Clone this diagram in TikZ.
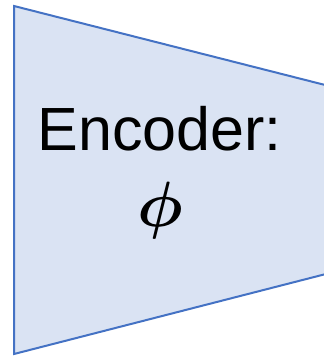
\documentclass[tikz,border=0pt]{standalone}
\usepackage{fontspec}
\setmainfont{Liberation Sans}
\usepackage{unicode-math}
\setmathfont{Latin Modern Math}
\definecolor{encfill}{HTML}{DAE3F3}
\definecolor{encline}{HTML}{4472C4}
\tikzset{encshape/.style={fill=encfill,draw=encline,line width=2pt,line join=miter}}
\begin{document}
\begin{tikzpicture}[x=1pt,y=-1pt]
\useasboundingbox (0,0) rectangle (324,357);
\clip (0,0) rectangle (324,357);
\draw[encshape] (14,6) coordinate (tl) -- (400,104) coordinate (tr) -- (400,255) coordinate (br) -- (14,354) coordinate (bl) -- cycle;
\node[anchor=base, inner sep=0pt, font=\fontsize{61}{70}\selectfont] (lbl) at (159.5,150) {Encoder:};
\node[inner sep=0pt, font=\fontsize{64}{70}\selectfont] (phi) at (160,211) {$\mbfitphi$};
\end{tikzpicture}
\end{document}
